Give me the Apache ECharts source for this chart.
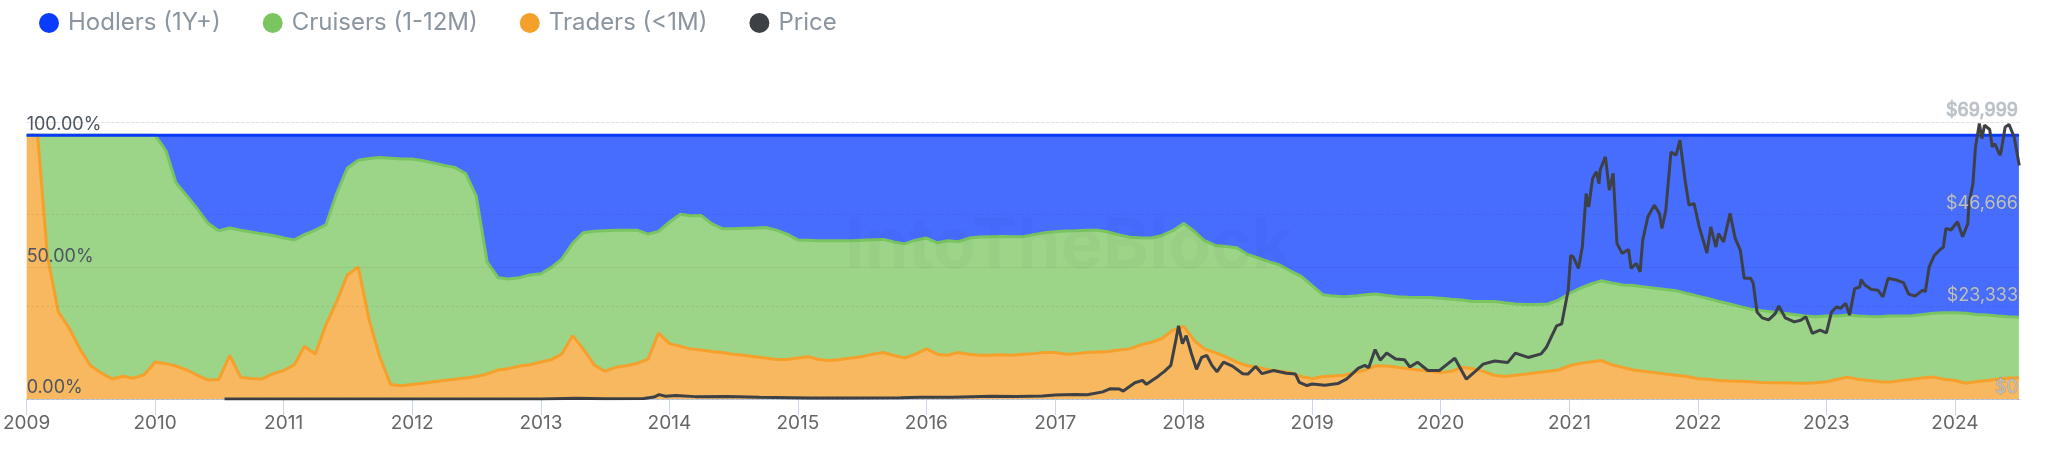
<!DOCTYPE html>
<html>
<head>
<meta charset="utf-8">
<script src="https://cdn.jsdelivr.net/npm/echarts@6/dist/echarts.min.js"></script>
<style>
html,body{margin:0;padding:0;background:#fff;}
#chart{width:2048px;height:470px;}
</style>
</head>
<body>
<div id="chart"></div>
<script>
// ---- DATA ----
// monthly share samples start at 2009-01 (1st of each month)
const shareStart = [2009, 0];
const traders = [
  100, 100, 54, 33, 27, 19, 12.7, 9.8, 7.6, 8.6, 7.9, 9.2,
  14, 13.4, 12.5, 11, 9, 7.2, 7.4, 16.5, 8.2, 7.8, 7.6, 9.5,
  10.8, 13, 20, 17, 28, 37, 47, 50, 30, 16, 5.5, 5,
  5.5, 6, 6.5, 7, 7.5, 8, 8.5, 9.5, 11, 11.5, 12.5, 13,
  14, 15, 17, 24, 19, 13, 10.5, 12, 12.6, 13.5, 15, 25,
  21, 20, 19, 18.6, 18, 17.6, 17, 16.6, 16, 15.5, 15, 15,
  15.5, 16, 15, 14.6, 15, 15.5, 16, 17, 17.6, 16.5, 15.6, 17,
  19, 17, 16.6, 17.6, 17, 16.6, 16.6, 16.8, 16.6, 17, 17.2, 17.6,
  17.6, 17, 17.2, 17.6, 17.8, 18, 18.6, 19, 20.5, 21.5, 23, 26,
  27.5, 22, 19, 17.6, 16, 14, 12.6, 12, 11, 10.5, 10, 8.5,
  7.7, 8.5, 8.7, 9, 10, 11, 12.6, 12.5, 12, 11.5, 11, 10.5,
  10, 10.5, 12, 11.5, 10.5, 9, 8.5, 9, 9.5, 10, 10.5, 11,
  12.6, 13.5, 14, 14.6, 13, 12, 11, 10.5, 10, 9.5, 9, 8.5,
  7.7, 7.5, 7, 6.8, 6.7, 6.5, 6.3, 6.2, 6.2, 6.1, 6, 6.2,
  6.5, 7.5, 8.3, 7.5, 7, 6.5, 6.4, 7, 7.5, 8, 8.3, 7.5,
  7, 6, 6.5, 7, 7.5, 8, 8
];
const hodlers = [
  0, 0, 0, 0, 0, 0, 0, 0, 0, 0, 0, 0,
  0, 6, 18, 23, 28, 33.5, 36.2, 35.2, 36, 36.7, 37.4, 38,
  39, 39.7, 37.7, 36, 34, 22, 12.5, 9.5, 8.8, 8.5, 8.7, 9,
  9, 9.7, 10.5, 11.5, 12.2, 14.5, 23, 48, 54, 54.5, 54, 53,
  52.5, 50, 47, 41, 37, 36.4, 36.2, 36, 36, 36, 37.5, 36.5,
  33, 30, 30.5, 30.4, 33.5, 35.5, 35.5, 35.3, 35.2, 35, 36, 37.5,
  39.7, 39.8, 40, 40, 40, 40, 39.8, 39.6, 39.5, 40.5, 41.2, 39.8,
  39, 40.8, 40, 40.4, 39, 38.6, 38.5, 38.4, 38.5, 38.5, 37.7, 37,
  36.6, 36.3, 36.2, 36, 36, 36.7, 37.8, 38.7, 38.9, 39, 38, 36.2,
  33.5, 36.5, 40, 41.8, 42.2, 42.7, 45.2, 46.5, 48, 49.2, 51.5, 53.5,
  57, 60.5, 61, 61.2, 61, 60.5, 60.2, 60.8, 61.2, 61.4, 61.5, 61.5,
  61.8, 62.2, 62.5, 63, 63, 63, 63.5, 64, 64.2, 64.2, 64, 62.5,
  60, 58, 56.5, 55.2, 56, 56.8, 57, 57.5, 58, 58.5, 59, 60,
  61, 62, 63, 64, 65, 66, 66.5, 67, 67.5, 68, 68.5, 68.8,
  68.5, 68.5, 68.2, 68.5, 68.7, 68.8, 68.5, 68.5, 68.4, 68, 67.5, 67.3,
  67.3, 67.5, 68, 68.2, 68.5, 68.8, 69
];
// price samples: decimal year -> USD
const priceYears = [
  2010.54, 2010.9, 2011.1, 2011.45, 2011.8, 2012.3, 2012.7, 2013.0, 2013.28, 2013.5, 2013.8, 2013.88, 2013.92, 2013.97,
  2014.05, 2014.2, 2014.45, 2014.7, 2014.95, 2015.1, 2015.4, 2015.8, 2015.95, 2016.2, 2016.5, 2016.7, 2016.9,
  2017.0, 2017.15, 2017.25, 2017.37, 2017.43, 2017.5, 2017.53, 2017.62, 2017.68, 2017.71, 2017.8, 2017.85, 2017.9,
  2017.94, 2017.96, 2017.99, 2018.02, 2018.06, 2018.1, 2018.14, 2018.18, 2018.22, 2018.26, 2018.31, 2018.38,
  2018.46, 2018.5, 2018.56, 2018.61, 2018.7, 2018.8, 2018.87, 2018.9, 2018.96,
  2019.0, 2019.1, 2019.2, 2019.27, 2019.36, 2019.41, 2019.44, 2019.49, 2019.53, 2019.58, 2019.65, 2019.72,
  2019.76, 2019.82, 2019.9, 2019.99, 2020.04, 2020.11, 2020.2, 2020.26, 2020.33, 2020.42, 2020.52, 2020.58,
  2020.68, 2020.78, 2020.82, 2020.9, 2020.94, 2020.99,
  2021.01, 2021.03, 2021.07, 2021.10, 2021.13, 2021.15, 2021.18, 2021.21, 2021.23, 2021.24, 2021.28, 2021.31,
  2021.34, 2021.37, 2021.41, 2021.46, 2021.48, 2021.52, 2021.55, 2021.57, 2021.61, 2021.66, 2021.70, 2021.72,
  2021.75, 2021.79, 2021.83, 2021.86, 2021.90, 2021.93, 2021.97,
  2022.01, 2022.07, 2022.10, 2022.14, 2022.16, 2022.20, 2022.25, 2022.29, 2022.33, 2022.36, 2022.41, 2022.43,
  2022.46, 2022.50, 2022.55, 2022.60, 2022.63, 2022.68, 2022.75, 2022.80, 2022.84, 2022.89, 2022.95,
  2023.00, 2023.04, 2023.08, 2023.11, 2023.15, 2023.18, 2023.22, 2023.26, 2023.27, 2023.30, 2023.35, 2023.40,
  2023.44, 2023.48, 2023.55, 2023.60, 2023.64, 2023.69, 2023.75, 2023.77, 2023.80, 2023.84, 2023.88, 2023.91,
  2023.93, 2023.97, 2024.02, 2024.06, 2024.10, 2024.11, 2024.14, 2024.16, 2024.19, 2024.21, 2024.23, 2024.27,
  2024.29, 2024.31, 2024.35, 2024.36, 2024.39, 2024.42, 2024.46, 2024.50
];
const priceValues = [
  0.07, 0.25, 1, 18, 3, 5, 11, 13, 180, 90, 150, 500, 1100, 700,
  900, 600, 620, 420, 320, 230, 240, 320, 430, 420, 680, 610, 760,
  1000, 1150, 1050, 1800, 2600, 2500, 2000, 4100, 4700, 3700, 5700, 7000, 8500,
  15000, 18500, 14000, 16000, 11500, 7500, 10500, 11000, 8500, 6900, 9300, 8300,
  6400, 6300, 8200, 6400, 7200, 6500, 6300, 4200, 3400,
  3800, 3500, 3900, 5100, 7800, 8500, 7900, 12500, 9800, 11600, 10100, 9900,
  8100, 9300, 7200, 7200, 8500, 10300, 5000, 6700, 8800, 9600, 9200, 11600,
  10500, 11400, 13000, 18500, 19000, 27500,
  36300, 35900, 33000, 38400, 51900, 48500, 55700, 57400, 54400, 58000, 61200, 52800,
  57000, 39300, 36800, 37800, 33000, 34300, 32100, 40100, 46000, 49000, 46900, 43100,
  47700, 62400, 61600, 65400, 55300, 49000, 49400,
  43500, 36900, 43500, 38400, 41800, 39700, 46900, 40600, 37600, 30500, 30500, 29300,
  22000, 20500, 20000, 21500, 23500, 20500, 19500, 19900, 20800, 16600, 17400,
  16700, 22000, 23300, 22900, 24200, 21200, 27900, 28300, 30200, 28800, 27700, 27500,
  25800, 30500, 30000, 29400, 26500, 26000, 27500, 27100, 33400, 36300, 37600, 38400,
  43100, 42700, 44800, 41000, 44300, 49400, 54400, 63700, 69600, 65800, 69200, 68100,
  63700, 64500, 61600, 62800, 68700, 69400, 66200, 59000
];
const percentTicks = [0, 50, 100];
const priceTicks = [0, 23333, 46666, 69999];
const seriesNames = ['Hodlers (1Y+)', 'Cruisers (1-12M)', 'Traders (<1M)', 'Price'];

// ---- helpers ----
function monthTime(i) { return Date.UTC(shareStart[0], shareStart[1] + i, 1); }
function decYear(y) {
  const yr = Math.floor(y);
  const s = Date.UTC(yr, 0, 1), e = Date.UTC(yr + 1, 0, 1);
  return s + (y - yr) * (e - s);
}
const traderData = traders.map((v, i) => [monthTime(i), v]);
const cruiserData = traders.map((v, i) => [monthTime(i), +(100 - v - hodlers[i]).toFixed(2)]);
const hodlerData = hodlers.map((v, i) => [monthTime(i), v]);
const priceData = priceYears.map((y, i) => [decYear(y), priceValues[i]]);

const COLORS = {
  hodlers: '#0a3cff',
  cruisers: '#7bc560',
  traders: '#f5a02b',
  price: '#3d4146'
};
const FONT = 'Inter, "Noto Sans", sans-serif';

const chart = echarts.init(document.getElementById('chart'), null, { renderer: 'canvas' });
chart.setOption({
  animation: false,
  backgroundColor: '#ffffff',
  textStyle: { fontFamily: FONT },
  legend: {
    data: seriesNames,
    left: 34,
    top: 6,
    icon: 'circle',
    itemWidth: 20,
    itemHeight: 20,
    itemGap: 42,
    textStyle: { fontSize: 24, color: '#8a959f', fontFamily: FONT, padding: [0, 0, 0, 4] }
  },
  grid: { left: 22, right: 28, top: 122, bottom: 71, containLabel: false },
  graphic: [{
    type: 'text',
    left: 845,
    top: 212,
    z: 100,
    style: { text: 'IntoTheBlock', fontSize: 70, fontWeight: 'bold', fontFamily: FONT, fill: 'rgba(0,0,0,0.022)' }
  }],
  xAxis: {
    type: 'time',
    min: Date.UTC(2009, 0, 1),
    max: Date.UTC(2024, 6, 4),
    minInterval: 365 * 86400000,
    maxInterval: 366 * 86400000,
    axisLine: { show: true, lineStyle: { color: '#ccd6eb', width: 1 } },
    axisTick: { show: true, length: 16, lineStyle: { color: '#ccd6eb' } },
    axisLabel: {
      formatter: '{yyyy}',
      fontSize: 19,
      color: '#666666',
      margin: 15,
      fontFamily: FONT,
      alignMinLabel: 'left',
      hideOverlap: false
    },
    splitLine: { show: false }
  },
  yAxis: [{
    type: 'value',
    position: 'left',
    z: 10,
    min: 0,
    max: 105,
    interval: 50,
    axisLine: { show: false },
    axisTick: { show: false },
    axisLabel: {
      inside: true,
      showMaxLabel: false,
      margin: 0,
      fontSize: 18,
      color: '#4d5560',
      fontFamily: FONT,
      verticalAlign: 'bottom',
      padding: [0, 0, 2, 0],
      formatter: v => percentTicks.indexOf(v) >= 0 ? v.toFixed(2) + '%' : ''
    },
    splitLine: { show: true, lineStyle: { color: 'rgba(0,0,0,0.05)', width: 1 } }
  }, {
    type: 'value',
    position: 'right',
    z: 10,
    min: 0,
    max: 69999,
    interval: 23333,
    axisLine: { show: false },
    axisTick: { show: false },
    axisLabel: {
      inside: true,
      margin: 2,
      fontSize: 18,
      color: '#b9c0c8',
      fontFamily: FONT,
      verticalAlign: 'bottom',
      padding: [0, 0, 2, 0],
      textBorderColor: 'rgba(90,100,110,0.35)',
      textBorderWidth: 1,
      formatter: v => priceTicks.indexOf(v) >= 0 ? '$' + v.toLocaleString('en-US') : ''
    },
    splitLine: { show: true, lineStyle: { color: 'rgba(0,0,0,0.09)', width: 1, type: [2, 3] } }
  }],
  series: [{
    name: 'Traders (<1M)',
    type: 'line',
    stack: 'share',
    data: traderData,
    showSymbol: false,
    symbol: 'none',
    color: COLORS.traders,
    lineStyle: { width: 3, color: COLORS.traders },
    areaStyle: { color: COLORS.traders, opacity: 0.75 },
    z: 2
  }, {
    name: 'Cruisers (1-12M)',
    type: 'line',
    stack: 'share',
    data: cruiserData,
    showSymbol: false,
    symbol: 'none',
    color: COLORS.cruisers,
    lineStyle: { width: 3, color: COLORS.cruisers },
    areaStyle: { color: COLORS.cruisers, opacity: 0.75 },
    z: 2
  }, {
    name: 'Hodlers (1Y+)',
    type: 'line',
    stack: 'share',
    data: hodlerData,
    showSymbol: false,
    symbol: 'none',
    color: COLORS.hodlers,
    lineStyle: { width: 3, color: COLORS.hodlers },
    areaStyle: { color: COLORS.hodlers, opacity: 0.75 },
    z: 2
  }, {
    name: 'Price',
    type: 'line',
    yAxisIndex: 1,
    data: priceData,
    showSymbol: false,
    symbol: 'none',
    color: COLORS.price,
    lineStyle: { width: 3, color: COLORS.price },
    z: 5
  }]
});
</script>
</body>
</html>
